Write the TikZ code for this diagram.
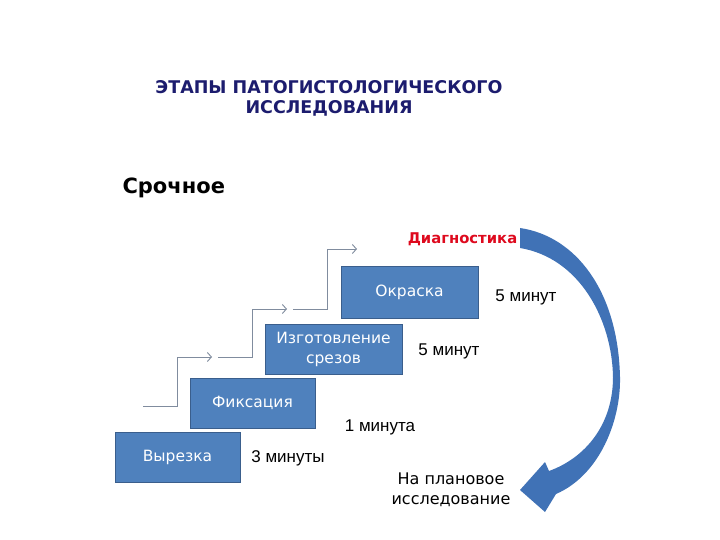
\documentclass[tikz,border=0pt]{standalone}
\usepackage{fontspec}
\usetikzlibrary{arrows.meta}
\setmainfont{Liberation Sans}
\newfontfamily\comicfont{DejaVu Sans}

\definecolor{boxblue}{RGB}{79,129,189}
\definecolor{boxborder}{RGB}{58,94,140}
\definecolor{arrowblue}{RGB}{64,114,182}
\definecolor{stairgray}{RGB}{128,140,158}
\definecolor{titlenavy}{RGB}{28,28,110}
\definecolor{diagred}{RGB}{222,10,30}

\begin{document}
\begin{tikzpicture}[x=1pt,y=-1pt]
    \tikzstyle{stage}=[draw=boxborder, fill=boxblue, line width=0.8pt, inner sep=0pt,
        minimum height=50pt, text=white, align=center,
        font=\comicfont\fontsize{15.5}{20}\selectfont]
    \tikzstyle{timing}=[font=\fontsize{17}{20}\selectfont]
    \tikzstyle{heading}=[font=\comicfont\bfseries\fontsize{17.5}{20}\selectfont, text=titlenavy, align=center]
    \tikzstyle{stair}=[-{Straight Barb[length=4pt,width=9pt]}, draw=stairgray, line width=0.9pt]

    \useasboundingbox (0,0) rectangle (720,540);

    % Title and mode
    \node[heading] (title) at (329,98) {ЭТАПЫ ПАТОГИСТОЛОГИЧЕСКОГО\\ИССЛЕДОВАНИЯ};
    \node[font=\comicfont\bfseries\fontsize{21}{24}\selectfont, anchor=west] (mode) at (119,188) {Срочное};

    % Draw the stage boxes
    \node[stage, minimum width=125pt] (cut) at (177.5,457) {Вырезка};
    \node[stage, minimum width=125pt] (fix) at (252.5,403) {Фиксация};
    \node[stage, minimum width=137pt] (slice) at (333.5,349) {Изготовление\\срезов};
    \node[stage, minimum width=137pt, minimum height=52pt] (stain) at (409.5,292) {Окраска};

    % Times of each stage
    \node[timing] (t-cut) at (288,458) {3 минуты};
    \node[timing] (t-fix) at (380,427) {1 минута};
    \node[timing] (t-slice) at (449,351) {5 минут};
    \node[timing] (t-stain) at (526,297) {5 минут};

    % Diagnosis and planned study
    \node[font=\comicfont\bfseries\fontsize{14.8}{18}\selectfont, text=diagred] (diag) at (462.5,239) {Диагностика};
    \node[font=\comicfont\fontsize{16}{20}\selectfont, align=center] (plan) at (451,490) {На плановое\\исследование};

    % Draw the stairs between the stages
    \foreach \n/\sx/\sy/\ex/\ey in {1/143/406/212/357, 2/218/357/287/309, 3/293/309/357/249}
    {
        \coordinate (S-\n) at (\sx,\sy);
        \coordinate (E-\n) at (\ex,\ey);
        \draw[stair] (S-\n) -- ++(34,0) |- (E-\n);
    }

    % The curved arrow from diagnosis to the planned study
    \fill[arrowblue] (520,228) .. controls (575,236) and (618,290) .. (620,377)
        .. controls (621,420) and (600,475) .. (556,494) -- (545,512) -- (520,490)
        -- (545,462) -- (549,471) .. controls (585,458) and (613,425) .. (613,377)
        .. controls (612,320) and (580,258) .. (520,248) -- cycle;
\end{tikzpicture}
\end{document}
